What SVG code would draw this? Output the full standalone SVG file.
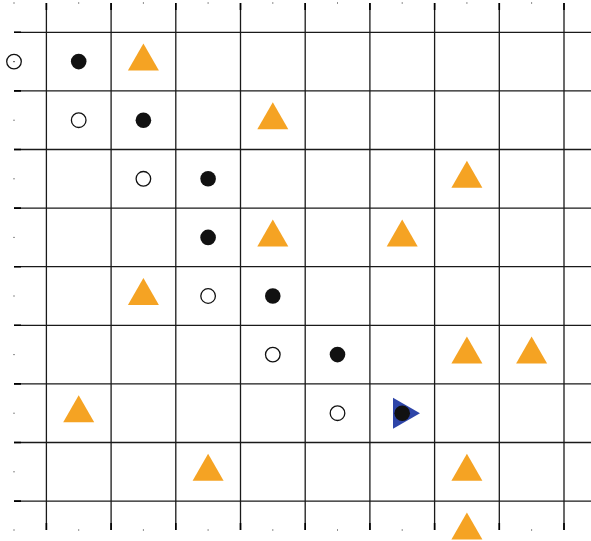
<svg xmlns="http://www.w3.org/2000/svg" width="591" height="541" viewBox="0 0 591 541">
<defs>
<style>
.g{stroke:#1a1a1a;stroke-width:1.3;fill:none}
.t{stroke:#000;stroke-width:1.6}
.tk{fill:#222}
.f{fill:#111}
.o{fill:#fff;stroke:#111;stroke-width:1.3}
.tri{fill:#F5A323}
.bl{fill:#2E45A8}
</style>
<circle id="fc" class="f" r="7.8"/>
<circle id="oc" class="o" r="7.3"/>
<polygon id="tr" class="tri" points="0,-18 15.5,9 -15.5,9"/>
</defs>
<rect width="591" height="541" fill="#fff"/>
<g id="grid">
<g class="g">
<path d="M46.4 3V530M111.1 3V530M175.8 3V530M240.5 3V530M305.2 3V530M369.9 3V530M434.6 3V530M499.3 3V530M564 3V530"/>
<path d="M14 32.3H591M14 90.9H591M14 149.5H591M14 208.1H591M14 266.7H591M14 325.3H591M14 383.9H591M14 442.5H591M14 501.1H591"/>
</g>
<g class="t">
<path d="M46.4 3V10M111.1 3V10M175.8 3V10M240.5 3V10M305.2 3V10M369.9 3V10M434.6 3V10M499.3 3V10M564 3V10"/>
<path d="M46.4 523V530M111.1 523V530M175.8 523V530M240.5 523V530M305.2 523V530M369.9 523V530M434.6 523V530M499.3 523V530M564 523V530"/>
<path d="M14 32.3H21M14 90.9H21M14 149.5H21M14 208.1H21M14 266.7H21M14 325.3H21M14 383.9H21M14 442.5H21M14 501.1H21"/>
</g>
<g class="tk">
<rect x="13.5" y="2.5" width="1" height="1"/><rect x="78.2" y="2.5" width="1" height="1"/><rect x="142.9" y="2.5" width="1" height="1"/><rect x="207.6" y="2.5" width="1" height="1"/><rect x="272.3" y="2.5" width="1" height="1"/><rect x="337" y="2.5" width="1" height="1"/><rect x="401.7" y="2.5" width="1" height="1"/><rect x="466.4" y="2.5" width="1" height="1"/><rect x="531.1" y="2.5" width="1" height="1"/>
<rect x="13.5" y="529.5" width="1" height="1"/><rect x="78.2" y="529.5" width="1" height="1"/><rect x="142.9" y="529.5" width="1" height="1"/><rect x="207.6" y="529.5" width="1" height="1"/><rect x="272.3" y="529.5" width="1" height="1"/><rect x="337" y="529.5" width="1" height="1"/><rect x="401.7" y="529.5" width="1" height="1"/><rect x="466.4" y="529.5" width="1" height="1"/><rect x="531.1" y="529.5" width="1" height="1"/>
<rect x="13.5" y="119.7" width="1" height="1"/><rect x="13.5" y="178.3" width="1" height="1"/><rect x="13.5" y="236.9" width="1" height="1"/><rect x="13.5" y="295.5" width="1" height="1"/><rect x="13.5" y="354.1" width="1" height="1"/><rect x="13.5" y="412.7" width="1" height="1"/><rect x="13.5" y="471.3" width="1" height="1"/>
</g>
</g>
<g id="row1">
<use href="#oc" x="14" y="61.6"/><rect x="13.4" y="61" width="1.2" height="1.2" fill="#111"/>
<use href="#fc" x="78.7" y="61.6"/>
<use href="#tr" x="143.4" y="61.6"/>
</g>
<g id="row2">
<use href="#oc" x="78.7" y="120.2"/>
<use href="#fc" x="143.4" y="120.2"/>
<use href="#tr" x="272.8" y="120.2"/>
</g>
<g id="row3">
<use href="#oc" x="143.4" y="178.8"/>
<use href="#fc" x="208.1" y="178.8"/>
<use href="#tr" x="466.9" y="178.8"/>
</g>
<g id="row4">
<use href="#fc" x="208.1" y="237.4"/>
<use href="#tr" x="272.8" y="237.4"/>
<use href="#tr" x="402.2" y="237.4"/>
</g>
<g id="row5">
<use href="#tr" x="143.4" y="296"/>
<use href="#oc" x="208.1" y="296"/>
<use href="#fc" x="272.8" y="296"/>
</g>
<g id="row6">
<use href="#oc" x="272.8" y="354.6"/>
<use href="#fc" x="337.5" y="354.6"/>
<use href="#tr" x="466.9" y="354.6"/>
<use href="#tr" x="531.6" y="354.6"/>
</g>
<g id="row7">
<use href="#tr" x="78.7" y="413.2"/>
<use href="#oc" x="337.5" y="413.2"/>
<polygon class="bl" points="393,397.7 420,413.2 393,428.7"/>
<use href="#fc" x="402.2" y="413.2"/>
</g>
<g id="row8">
<use href="#tr" x="208.1" y="471.8"/>
<use href="#tr" x="466.9" y="471.8"/>
</g>
<g id="row9">
<use href="#tr" x="466.9" y="530.4"/>
</g>
</svg>
